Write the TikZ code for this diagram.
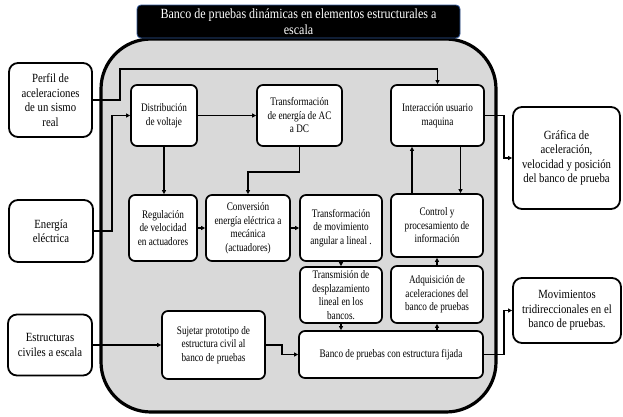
\documentclass[tikz,border=0pt]{standalone}
\usepackage{fontspec}
\setmainfont{Liberation Serif}[FakeStretch=0.8]
\newfontfamily\outerfont{Liberation Serif}[FakeStretch=0.86]
\newfontfamily\titlefont{Liberation Serif}[FakeStretch=0.86]
\usetikzlibrary{arrows.meta}
\definecolor{panelgray}{HTML}{D9D9D9}
\definecolor{titleblue}{HTML}{2F5597}
\begin{document}
\begin{tikzpicture}[x=1pt,y=-1pt,
 inbox/.style={draw, line width=1.7pt, rounded corners=6pt, fill=white, align=center, inner sep=0pt, font=\fontsize{11.5}{13.5}\selectfont},
 outbox/.style={draw, line width=1.8pt, rounded corners=9pt, fill=white, align=center, inner sep=0pt, font=\outerfont\fontsize{12.5}{14.5}\selectfont},
 conn/.style={line width=1.3pt, -{Triangle[length=4pt,width=4pt]}},
]
\useasboundingbox (0,0) rectangle (623,416);
% panel
\draw[line width=3.2pt, fill=panelgray, rounded corners=50pt] (101,39) rectangle (496,412);
% title
\node[draw=titleblue, line width=0.8pt, fill=black, rounded corners=4pt, minimum width=323pt, minimum height=33pt, inner sep=0pt, align=center, text=white, font=\titlefont\fontsize{14}{16.5}\selectfont] (title) at (298.5,21.5) {Banco de pruebas dinámicas en elementos estructurales a\\escala};
% outer boxes
\node[outbox, minimum width=83pt, minimum height=74pt] (perfil) at (50.5,100) {Perfil de\\aceleraciones\\de un sismo\\real};
\node[outbox, minimum width=84pt, minimum height=62pt] (energia) at (51,231) {Energía\\eléctrica};
\node[outbox, minimum width=84pt, minimum height=61pt] (estruct) at (50,345) {Estructuras\\civiles a escala};
\node[outbox, minimum width=107pt, minimum height=102pt] (grafica) at (566.5,158) {Gráfica de\\aceleración,\\velocidad y posición\\del banco de prueba};
\node[outbox, minimum width=108pt, minimum height=65pt] (movim) at (567,310.5) {Movimientos\\tridireccionales en el\\banco de pruebas.};
% inner boxes
\node[inbox, minimum width=66pt, minimum height=61pt] (distrib) at (164,115.5) {Distribución\\de voltaje};
\node[inbox, minimum width=85pt, minimum height=61pt] (acdc) at (299.5,115.5) {Transformación\\de energía de AC\\a DC};
\node[inbox, minimum width=93pt, minimum height=61pt] (interac) at (437.5,115.5) {Interacción usuario\\maquina};
\node[inbox, minimum width=68pt, minimum height=66pt] (regul) at (163,228) {Regulación\\de velocidad\\en actuadores};
\node[inbox, minimum width=84pt, minimum height=66pt] (conver) at (248,228) {Conversión\\energía eléctrica a\\mecánica\\(actuadores)};
\node[inbox, minimum width=82pt, minimum height=66pt] (transmov) at (341,228) {Transformación\\de movimiento\\angular a lineal .};
\node[inbox, minimum width=92pt, minimum height=63pt] (control) at (437,225.5) {Control y\\procesamiento de\\información};
\node[inbox, minimum width=82pt, minimum height=56pt] (transmis) at (341,295) {Transmisión de\\desplazamiento\\lineal en los\\bancos.};
\node[inbox, minimum width=92pt, minimum height=57pt] (adquis) at (437,294.5) {Adquisición de\\aceleraciones del\\banco de pruebas};
\node[inbox, minimum width=103pt, minimum height=68pt] (sujetar) at (213.5,345) {Sujetar prototipo de\\estructura civil al\\banco de pruebas};
\node[inbox, minimum width=184pt, minimum height=47pt] (banco) at (391,354.5) {Banco de pruebas con estructura fijada};
% connectors
\draw[conn] (perfil.east) -| (120,69) -| (interac.north);
\draw[conn] (energia.east) -| (112,115.5) -- (distrib.west);
\draw[conn] (estruct.east) -- (sujetar.west);
\draw[conn] (distrib.south) -- (distrib.south |- regul.north);
\draw[conn] (distrib.east) -- (acdc.west);
\draw[conn] (acdc.south) |- (248,172) -- (conver.north);
\draw[conn] (regul.east) -- (conver.west);
\draw[conn] (conver.east) -- (transmov.west);
\draw[conn] (transmov.south) -- (transmis.north);
\draw[conn] (transmis.south) -- (transmis.south |- banco.north);
\draw[conn] (adquis.south |- banco.north) -- (adquis.south);
\draw[conn] (adquis.north) -- (control.south);
\draw[conn] ([xshift=-25pt]control.north) -- ([xshift=-25pt]control.north |- interac.south);
\draw[conn] ([xshift=23pt]interac.south) -- ([xshift=23pt]interac.south |- control.north);
\draw[conn] (interac.east) -| (504,158) -- (grafica.west);
\draw[conn] (sujetar.east) -| (282,354.5) -- (banco.west);
\draw[conn] (banco.east) -| (504,310.5) -- (movim.west);
\end{tikzpicture}
\end{document}
